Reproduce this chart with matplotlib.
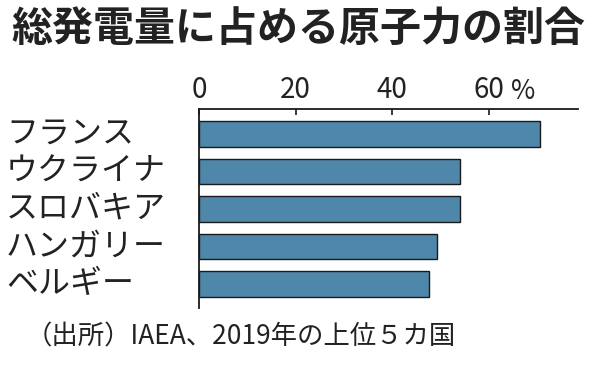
import matplotlib
matplotlib.use("Agg")
import matplotlib.pyplot as plt

plt.rcParams['font.family'] = ['Noto Sans CJK JP', 'DejaVu Sans']

countries = ["フランス", "ウクライナ", "スロバキア", "ハンガリー", "ベルギー"]
shares = [70.6, 53.9, 53.9, 49.2, 47.6]
ticks = [0, 20, 40, 60]
tick_labels = ["0", "20", "40", "60"]

fig = plt.figure(figsize=(5.96, 3.68), dpi=100)
ax = fig.add_axes([199 / 596, 1 - 308 / 368, (578 - 199) / 596, (308 - 109) / 368])

ypos = range(len(countries))
ax.barh(ypos, shares, height=0.68, color="#4f87aa", edgecolor="#1a1a1a", linewidth=1.0)
ax.set_xlim(0, 78.4)
ax.set_ylim(4.643, -0.664)

for s in ["right", "bottom"]:
    ax.spines[s].set_visible(False)
for s in ["top", "left"]:
    ax.spines[s].set_linewidth(1.3)
    ax.spines[s].set_color("#1a1a1a")

ax.xaxis.tick_top()
ax.set_xticks(ticks)
ax.set_xticklabels(tick_labels, fontsize=20, color="#222222")
ax.tick_params(axis="x", direction="in", length=4, width=1.2, pad=3, colors="#1a1a1a", labelcolor="#222222")
ax.set_yticks([])

# percent sign after the 60 label
ax.text(64.6, 1.021, "%", transform=ax.get_xaxis_transform(), fontsize=19,
        color="#222222", ha="left", va="bottom")

# country labels at the left edge of the figure
for i, name in enumerate(countries):
    ax.annotate(name, xy=(0, i), xycoords=("figure fraction", "data"),
                xytext=(6, 0), textcoords="offset pixels",
                fontsize=23, color="#222222", ha="left", va="center")

fig.text(298 / 596, 1 - 29 / 368, "総発電量に占める原子力の割合", fontsize=29.5,
         fontweight="bold", ha="center", va="center", color="#222222")
fig.text(26 / 596, 1 - 337 / 368, "（出所）IAEA、2019年の上位５カ国", fontsize=19,
         ha="left", va="center", color="#222222")

fig.savefig("out.png", dpi=100)
